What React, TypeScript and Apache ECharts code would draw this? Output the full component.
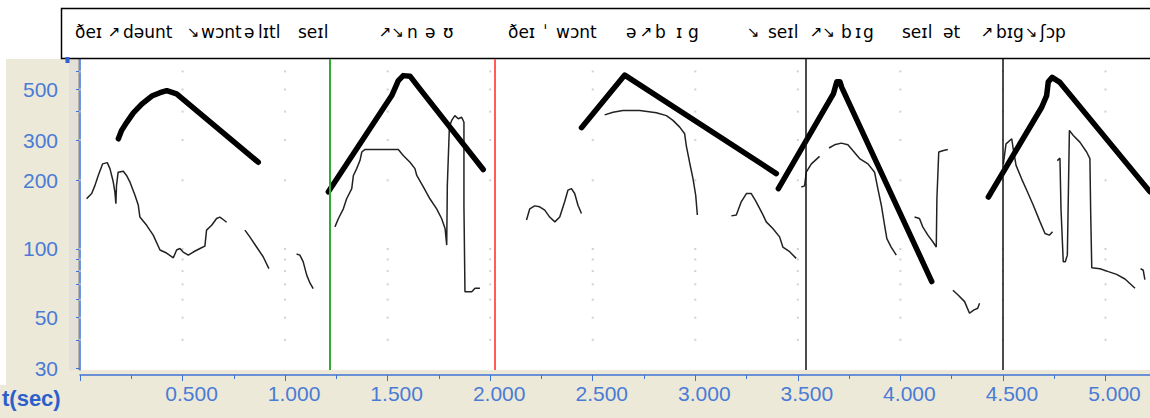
import React, { useEffect, useRef } from "react";
import * as echarts from "echarts";

// ---- pitch track (thin line), [time s, F0 Hz] ----
const pitch1 = [[0.032,166],[0.057,175],[0.073,190],[0.089,210],[0.110,236],[0.133,239],[0.146,225],[0.162,197],[0.170,178],[0.175,158],[0.178,190],[0.186,217],[0.211,219],[0.227,210],[0.243,197],[0.268,172],[0.284,156],[0.292,138],[0.325,127],[0.357,115],[0.390,99],[0.422,96],[0.455,91.5],[0.471,99],[0.487,100.5],[0.503,97],[0.528,94],[0.552,97],[0.585,100.5],[0.609,103],[0.617,121],[0.642,127],[0.666,136],[0.682,138],[0.701,134],[0.715,131]];
const pitch2 = [[0.804,121],[0.828,113],[0.861,102],[0.893,92.5],[0.921,82]];
const pitch3 = [[1.056,95],[1.072,94],[1.088,88],[1.105,77],[1.121,71],[1.137,67]];
const pitch4 = [[1.243,125],[1.260,136],[1.284,150],[1.300,166],[1.325,184],[1.333,210],[1.349,225],[1.365,244],[1.374,266],[1.390,273],[1.552,273],[1.576,257],[1.609,240],[1.633,225],[1.642,210],[1.674,187],[1.706,166],[1.739,150],[1.763,136],[1.780,123],[1.788,104],[1.791,190],[1.801,342],[1.812,366],[1.828,384],[1.844,372],[1.861,378],[1.872,359],[1.872,153],[1.877,65],[1.910,65],[1.926,67.3],[1.950,67.3]];
const pitch5 = [[2.177,134],[2.193,150],[2.217,154.5],[2.241,153],[2.266,148],[2.290,138],[2.315,131.5],[2.339,138],[2.363,161],[2.379,181],[2.396,184],[2.412,175],[2.428,155.5],[2.445,143]];
const pitch6 = [[2.558,387],[2.599,397.5],[2.647,404],[2.729,404],[2.810,395],[2.859,384],[2.891,366],[2.924,342],[2.948,320],[2.956,284],[2.972,240],[2.989,203],[3.002,172],[3.010,141]];
const pitch7 = [[3.176,139.7],[3.200,141],[3.224,161],[3.249,175],[3.273,175],[3.297,161],[3.330,141],[3.346,131.5],[3.378,123],[3.411,113],[3.427,102],[3.460,97.3],[3.492,91]];
const pitch8 = [[3.517,187],[3.533,189],[3.541,217],[3.566,236],[3.606,254.5]];
const pitch9 = [[3.652,277],[3.679,286],[3.712,291],[3.744,286],[3.768,270],[3.801,249],[3.842,236],[3.874,217],[3.890,184],[3.907,155.5],[3.923,127],[3.934,111],[3.955,102],[3.980,94]];
const pitch10 = [[4.069,138],[4.093,136],[4.109,125],[4.134,115],[4.158,107.6],[4.175,102],[4.178,166],[4.187,266],[4.210,270],[4.231,273]];
const pitch11 = [[4.256,66],[4.280,63],[4.313,58.8],[4.337,52.3],[4.357,54],[4.377,55],[4.386,57.8]];
const pitch12 = [[4.502,236],[4.515,289],[4.543,304],[4.550,275],[4.564,232.5],[4.591,203],[4.616,181],[4.648,155.5],[4.681,131.5],[4.705,117],[4.726,115],[4.742,119]];
const pitch13 = [[4.765,244],[4.778,250],[4.783,150],[4.794,88],[4.804,88],[4.814,94],[4.819,175],[4.824,331],[4.843,314.5],[4.875,294],[4.908,266],[4.924,249],[4.928,141],[4.933,82.8],[4.973,82],[5.014,79.6],[5.054,77.4],[5.095,73.9],[5.144,67.3]];
const pitch14 = [[5.171,82],[5.184,80.7],[5.192,73.4]];
const pitchSegments = [pitch1, pitch2, pitch3, pitch4, pitch5, pitch6, pitch7, pitch8, pitch9, pitch10, pitch11, pitch12, pitch13, pitch14];

// ---- stylised intonation contours (thick line) ----
const contour1 = [[0.187,304],[0.203,331],[0.228,359],[0.260,395],[0.301,431],[0.350,468],[0.390,484],[0.423,494],[0.471,478],[0.869,240]];
const contour2 = [[1.211,178],[1.520,470],[1.552,547],[1.576,575],[1.609,572],[1.658,502],[1.966,223]];
const contour3 = [[2.445,340],[2.656,578],[3.395,214]];
const contour4 = [[3.405,184],[3.673,478],[3.690,541],[3.705,541],[3.714,511],[4.153,72]];
const contour5 = [[4.429,169],[4.689,418],[4.713,470],[4.721,540],[4.740,565],[4.778,537],[5.217,178]];
const contourSegments = [contour1, contour2, contour3, contour4, contour5];

// ---- boundary markers (s) ----
const markerTimes = [1.224, 2.019, 3.535, 4.495];
const markerColors = ["#35a838", "#ff5c5c", "#111111", "#111111"];

// ---- axes ----
const yLabelValues = [30, 50, 100, 200, 300, 500];
const yTickValues = [30, 40, 50, 60, 70, 80, 90, 100, 200, 300, 400, 500, 600];
const xGridValues = [0, 0.5, 1, 1.5, 2, 2.5, 3, 3.5, 4, 4.5, 5];
const yGridValues = [40, 50, 60, 70, 80, 90, 100, 200, 300, 400, 500, 600];

// ---- transcription (text pieces; arrows are set smaller) ----
const headerWords: [string, number][] = [
  ["ðeɪ", 75], ["dəunt", 123], ["wɔnt", 201], ["ə", 244], ["lɪtl", 258], ["seɪl", 298],
  ["n", 407], ["ə", 425], ["ʊ", 443],
  ["ðeɪ", 508], ["ˈ", 543], ["wɔnt", 556], ["ə", 626], ["b", 655], ["ɪ", 676], ["g", 688],
  ["seɪl", 768], ["b", 841], ["ɪ", 855], ["g", 863],
  ["seɪl", 902], ["ət", 943], ["bɪg", 996], ["ʃɔp", 1040],
];
const headerArrows: [string, number][] = [
  ["↗", 108], ["↘", 187], ["↗↘", 379], ["↗", 640], ["↘", 747], ["↗↘", 810], ["↗", 981], ["↘", 1025],
];

const BLUE = "#3f72d6";
const LABEL_BLUE = "#4a7bd6";

export default function App() {
  const ref = useRef<HTMLDivElement>(null);
  useEffect(() => {
    const chart = echarts.init(ref.current!, null, { renderer: "svg" });
    const dots: number[][] = [];
    xGridValues.forEach((x) => yGridValues.forEach((y) => dots.push([x, y])));

    const series: any[] = [
      {
        type: "scatter",
        data: dots,
        symbol: "rect",
        symbolSize: 2,
        silent: true,
        itemStyle: { color: "#c6c6c6" },
        z: 1,
        markLine: {
          silent: true,
          symbol: "none",
          label: { show: false },
          data: markerTimes.map((t, i) => ({
            xAxis: t,
            lineStyle: { color: markerColors[i], width: i < 2 ? 2 : 1.5, type: "solid" },
          })),
        },
      },
      ...pitchSegments.map((d) => ({
        type: "line",
        data: d,
        showSymbol: false,
        silent: true,
        lineStyle: { color: "#222", width: 1.5 },
        z: 3,
      })),
      ...contourSegments.map((d) => ({
        type: "line",
        data: d,
        showSymbol: false,
        silent: true,
        lineStyle: { color: "#000", width: 5.5, cap: "round", join: "round" },
        z: 4,
      })),
    ];

    const graphic: any[] = [
      { type: "rect", silent: true, z: -10, shape: { x: 0, y: 0, width: 1150, height: 59 }, style: { fill: "#fff" } },
      { type: "rect", silent: true, z: -10, shape: { x: 0, y: 0, width: 6, height: 385 }, style: { fill: "#fff" } },
      { type: "rect", silent: true, z: -9, shape: { x: 69, y: 59, width: 11, height: 311 }, style: { fill: "#e2e0d8" } },
      { type: "line", silent: true, z: -8, shape: { x1: 78.5, y1: 59, x2: 78.5, y2: 370 }, style: { stroke: "#b4b2aa", lineWidth: 1 } },
      { type: "rect", silent: true, z: 10, shape: { x: 65.5, y: 57, width: 4, height: 6 }, style: { fill: "#2d62d0" } },
      { type: "rect", silent: true, z: 5, shape: { x: 61.5, y: 8.5, width: 1100, height: 50 }, style: { fill: "#fff", stroke: "#000", lineWidth: 1.5 } },
      ...headerWords.map(([t, x]) => ({
        type: "text",
        silent: true,
        z: 6,
        x,
        y: 32,
        style: { text: t, fill: "#000", fontSize: 17, fontFamily: "DejaVu Sans", verticalAlign: "middle" },
      })),
      ...headerArrows.map(([t, x]) => ({
        type: "text",
        silent: true,
        z: 6,
        x,
        y: 32,
        style: { text: t, fill: "#000", fontSize: 15, fontFamily: "DejaVu Sans", verticalAlign: "middle" },
      })),
      {
        type: "text",
        silent: true,
        z: 6,
        x: 2,
        y: 398,
        style: { text: "t(sec)", fill: "#2c5fcc", fontSize: 22, fontWeight: "bold", fontFamily: "Liberation Sans", verticalAlign: "middle" },
      },
    ];

    chart.setOption({
      animation: false,
      backgroundColor: "#ECE9D8",
      grid: { left: 80, right: 0, top: 59, bottom: 48, show: true, backgroundColor: "#fff", borderWidth: 0 },
      xAxis: {
        type: "value",
        min: 0,
        max: 5.217,
        interval: 0.5,
        offset: 5,
        axisLine: { show: true, lineStyle: { color: BLUE, width: 1.5 } },
        axisTick: { show: true, length: 6, lineStyle: { color: BLUE } },
        minorTick: { show: true, splitNumber: 2, length: 4, lineStyle: { color: BLUE } },
        splitLine: { show: false },
        minorSplitLine: { show: false },
        axisLabel: {
          color: LABEL_BLUE,
          fontSize: 21,
          fontFamily: "Liberation Sans",
          margin: 8,
          padding: [0, 0, 0, 18],
          showMaxLabel: false,
          formatter: (v: number) => {
            if (v === 0) return "";
            if (Math.abs(v * 2 - Math.round(v * 2)) > 1e-6) return "";
            return v.toFixed(3);
          },
        },
      },
      yAxis: {
        type: "log",
        logBase: 10,
        min: 29.5,
        max: 680,
        offset: 12,
        axisLine: { show: true, lineStyle: { color: BLUE, width: 1.5 } },
        axisTick: { show: true, length: 4, customValues: yTickValues, lineStyle: { color: BLUE } },
        minorTick: { show: false },
        splitLine: { show: false },
        axisLabel: {
          customValues: yLabelValues,
          color: LABEL_BLUE,
          fontSize: 21,
          fontFamily: "Liberation Sans",
          margin: 10,
          formatter: (v: number) => String(Math.round(v)),
        },
      },
      graphic,
      series,
    });
    return () => chart.dispose();
  }, []);
  return <div ref={ref} style={{ position: "fixed", left: 0, top: 0, width: 1150, height: 418 }} />;
}
